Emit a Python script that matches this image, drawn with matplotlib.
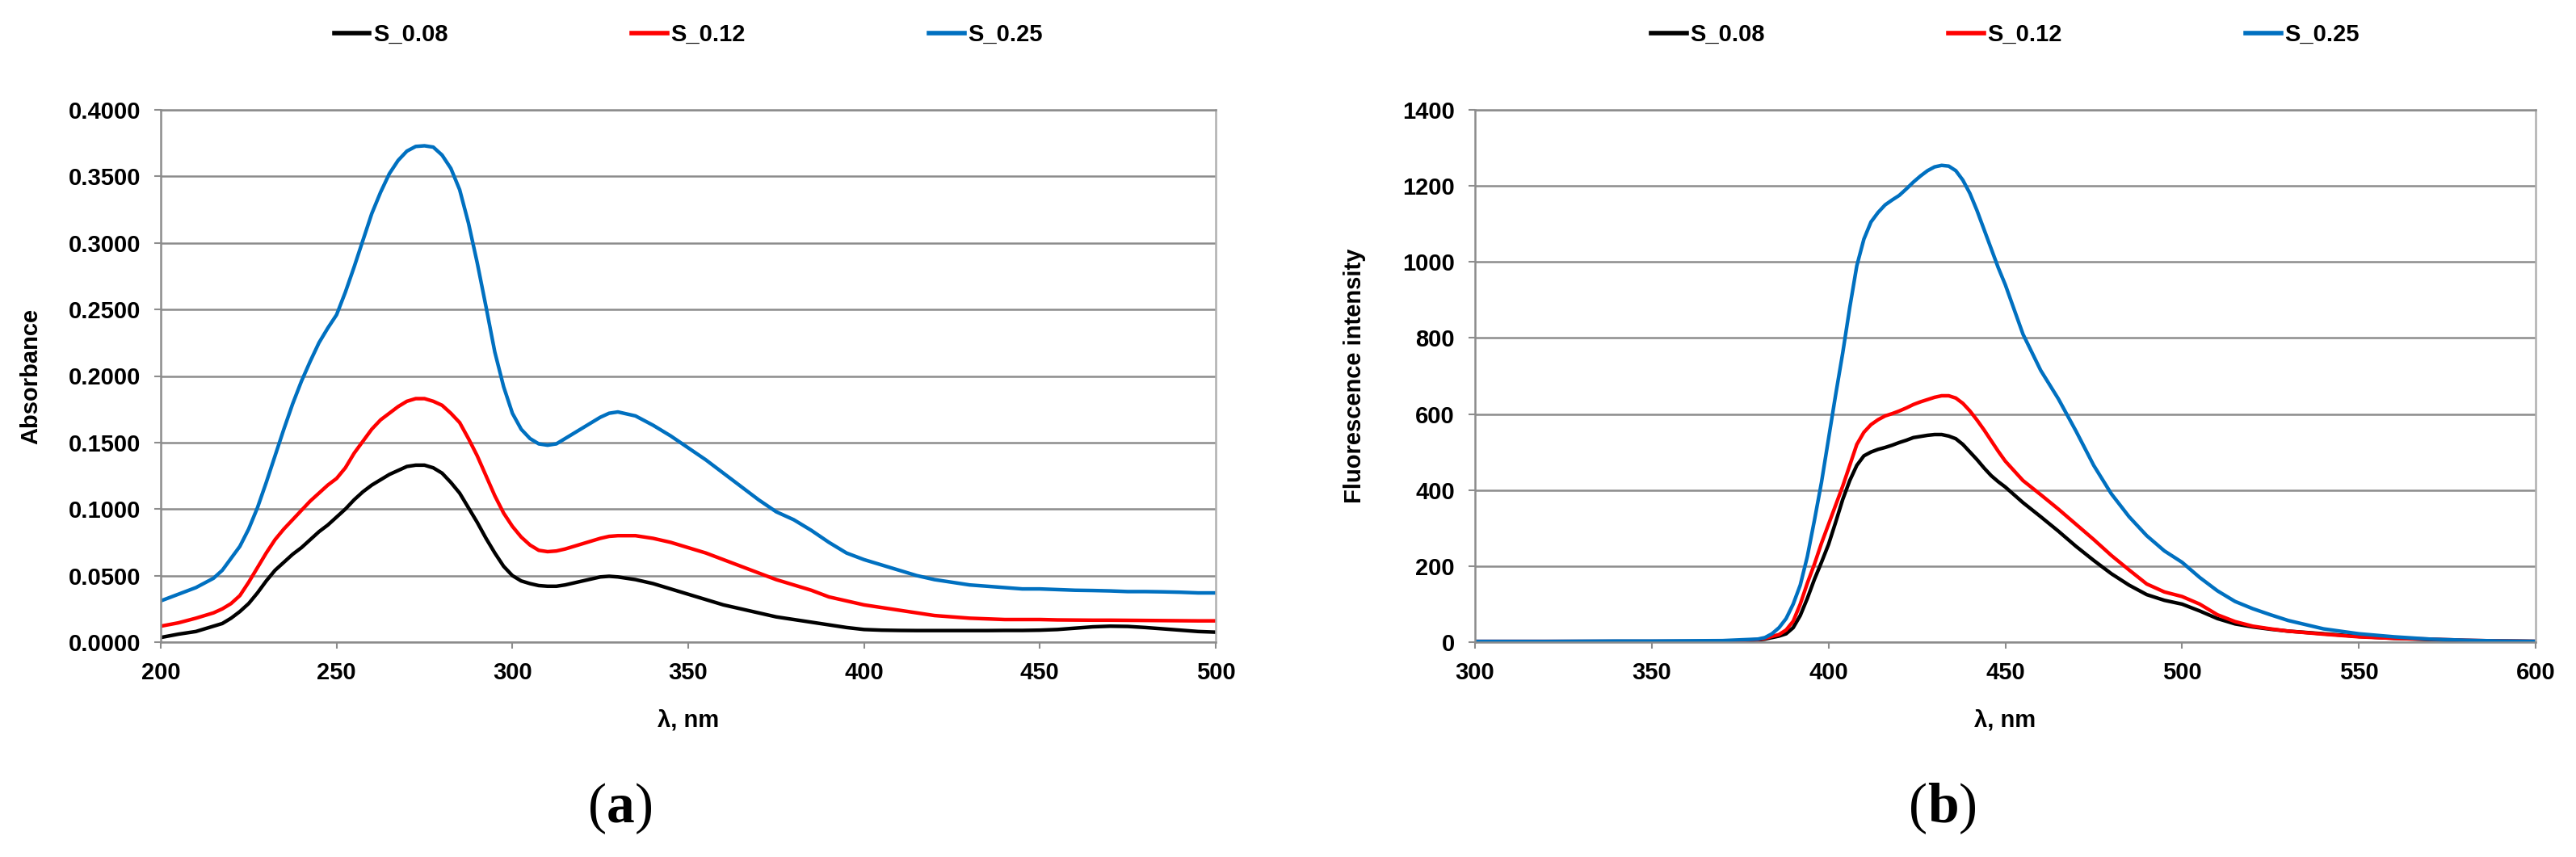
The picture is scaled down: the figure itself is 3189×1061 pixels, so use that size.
import matplotlib
matplotlib.use("Agg")
import matplotlib.pyplot as plt
from matplotlib.ticker import FormatStrFormatter
from matplotlib.offsetbox import TextArea, HPacker, AnchoredOffsetbox

# ---------------- data ----------------
series_names = ["S_0.08", "S_0.12", "S_0.25"]
series_colors = ["#000000", "#ff0000", "#0070c0"]

# (a) absorbance
wl_a = [200, 205, 210, 215, 217.5, 220, 222.5, 225, 227.5, 230, 232.5, 235, 237.5, 240,
        242.5, 245, 247.5, 250, 252.5, 255, 257.5, 260, 262.5, 265, 267.5, 270, 272.5,
        275, 277.5, 280, 282.5, 285, 287.5, 290, 292.5, 295, 297.5, 300, 302.5, 305,
        307.5, 310, 312.5, 315, 317.5, 320, 322.5, 325, 327.5, 330,
        335, 340, 345, 350, 355, 360, 365, 370, 375, 380, 385, 390, 395, 400, 405, 410,
        415, 420, 425, 430, 435, 440, 445, 450, 455, 460, 465, 470, 475, 480, 485, 490,
        495, 500]

abs_s008 = [0.0035, 0.006, 0.008, 0.012, 0.014, 0.018, 0.023, 0.029, 0.037, 0.046, 0.054,
            0.060, 0.066, 0.071, 0.077, 0.083, 0.088, 0.094, 0.100, 0.107, 0.113, 0.118,
            0.122, 0.126, 0.129, 0.132, 0.133, 0.133, 0.131, 0.127, 0.120, 0.112, 0.101,
            0.090, 0.078, 0.067, 0.057, 0.050, 0.046, 0.044, 0.0425, 0.042, 0.042, 0.043,
            0.0445, 0.046, 0.0475, 0.049, 0.0495, 0.049,
            0.047, 0.044, 0.040, 0.036, 0.032, 0.028, 0.025, 0.022, 0.019, 0.017, 0.015,
            0.013, 0.011, 0.0095, 0.009, 0.0088, 0.0087, 0.0087, 0.0087, 0.0087, 0.0087,
            0.0088, 0.0088, 0.0090, 0.0095, 0.0105, 0.0115, 0.0120, 0.0118, 0.0110,
            0.0100, 0.0090, 0.0080, 0.0075]

abs_s012 = [0.012, 0.0145, 0.018, 0.022, 0.025, 0.029, 0.035, 0.045, 0.056, 0.067, 0.077,
            0.085, 0.092, 0.099, 0.106, 0.112, 0.118, 0.123, 0.131, 0.142, 0.151, 0.160,
            0.167, 0.172, 0.177, 0.181, 0.183, 0.183, 0.181, 0.178, 0.172, 0.165, 0.153,
            0.140, 0.125, 0.110, 0.097, 0.087, 0.079, 0.073, 0.069, 0.068, 0.0685, 0.070,
            0.072, 0.074, 0.076, 0.078, 0.0795, 0.080,
            0.080, 0.078, 0.075, 0.071, 0.067, 0.062, 0.057, 0.052, 0.047, 0.043, 0.039,
            0.034, 0.031, 0.028, 0.026, 0.024, 0.022, 0.020, 0.019, 0.018, 0.0175, 0.017,
            0.017, 0.017, 0.0167, 0.0166, 0.0165, 0.0165, 0.0164, 0.0163, 0.0162, 0.0161,
            0.016, 0.016]

abs_s025 = [0.031, 0.036, 0.041, 0.048, 0.054, 0.063, 0.072, 0.085, 0.101, 0.120, 0.140,
            0.160, 0.179, 0.196, 0.211, 0.225, 0.236, 0.246, 0.263, 0.282, 0.302, 0.322,
            0.338, 0.352, 0.362, 0.369, 0.3725, 0.373, 0.372, 0.366, 0.356, 0.340, 0.315,
            0.285, 0.252, 0.218, 0.192, 0.172, 0.160, 0.153, 0.149, 0.148, 0.149, 0.153,
            0.157, 0.161, 0.165, 0.169, 0.172, 0.173,
            0.170, 0.163, 0.155, 0.146, 0.137, 0.127, 0.117, 0.107, 0.098, 0.092, 0.084,
            0.075, 0.067, 0.062, 0.058, 0.054, 0.050, 0.047, 0.045, 0.043, 0.042, 0.041,
            0.040, 0.040, 0.0395, 0.039, 0.0388, 0.0385, 0.038, 0.038, 0.0378, 0.0375,
            0.037, 0.037]

# (b) fluorescence
wl_b = [300, 310, 320, 330, 340, 350, 360, 370, 375,
        380, 382, 384, 386, 388, 390, 392, 394, 396, 398, 400, 402, 404, 406, 408, 410,
        412, 414, 416, 418, 420, 422, 424, 426, 428, 430, 432, 434, 436, 438, 440, 442,
        444, 446, 448, 450,
        455, 460, 465, 470, 475, 480, 485, 490, 495, 500, 505, 510, 515, 520, 525, 530,
        540, 550, 560, 570, 580, 590, 600]

fl_s008 = [1.5, 1.5, 1.5, 1.5, 1.5, 1.5, 1.5, 2, 3,
           6, 8, 12, 16, 22, 38, 70, 115, 165, 210, 257, 315, 375, 425, 465, 490,
           500, 507, 512, 518, 525, 531, 538, 541, 544, 546, 546, 542, 535, 520, 500, 480,
           458, 438, 422, 408,
           367, 330, 292, 252, 215, 180, 150, 125, 110, 100, 82, 62, 48, 40, 34, 29,
           22, 15, 10, 7, 4, 3, 2]

fl_s012 = [2, 2, 2, 2, 2, 2, 2, 2, 4,
           7, 10, 15, 20, 32, 55, 100, 155, 205, 260, 310, 360, 410, 465, 520, 552,
           572, 585, 595, 601, 608, 616, 625, 632, 638, 644, 648, 648, 642, 628, 608, 584,
           558, 530, 502, 476,
           425, 388, 350, 310, 270, 228, 190, 153, 132, 120, 100, 72, 54, 42, 35, 29,
           21, 14, 10, 8, 5, 3, 2]

fl_s025 = [2, 2, 2, 2.5, 3, 3, 3.5, 4, 6,
           8, 12, 22, 38, 62, 100, 150, 225, 320, 420, 535, 650, 760, 880, 990, 1060,
           1105, 1130, 1150, 1163, 1175, 1192, 1210, 1226, 1240, 1250, 1254, 1252, 1240,
           1215, 1180, 1135, 1085, 1035, 985, 940,
           810, 715, 640, 555, 465, 390, 330, 280, 240, 210, 170, 135, 107, 88, 72, 57,
           35, 22, 14, 8, 5, 3, 2]

xticks_a = [200, 250, 300, 350, 400, 450, 500]
yticks_a = [0.0, 0.05, 0.10, 0.15, 0.20, 0.25, 0.30, 0.35, 0.40]
xticks_b = [300, 350, 400, 450, 500, 550, 600]
yticks_b = [0, 200, 400, 600, 800, 1000, 1200, 1400]

for s in (abs_s008, abs_s012, abs_s025):
    assert len(s) == len(wl_a)
for s in (fl_s008, fl_s012, fl_s025):
    assert len(s) == len(wl_b)

# ---------------- figure ----------------
W, H = 3189, 1061
DPI = 100
fig = plt.figure(figsize=(W / DPI, H / DPI), dpi=DPI)
plt.rcParams["font.family"] = ["Liberation Sans", "DejaVu Sans"]

GRID = "#8c8c8c"
FS = 21


def px_axes(x0, x1, ytop, ybot):
    return fig.add_axes([x0 / W, 1 - ybot / H, (x1 - x0) / W, (ybot - ytop) / H])


def style(ax, xticks, yticks, fmt, ylabel):
    ax.set_xticks(xticks)
    ax.set_yticks(yticks)
    ax.set_xlim(xticks[0], xticks[-1])
    ax.set_ylim(yticks[0], yticks[-1])
    ax.yaxis.set_major_formatter(FormatStrFormatter(fmt))
    ax.grid(axis="y", color=GRID, linewidth=1.8)
    ax.set_axisbelow(True)
    for s in ["left", "right", "bottom", "top"]:
        ax.spines[s].set_color(GRID)
        ax.spines[s].set_linewidth(1.8)
    ax.spines["right"].set_color("#b0b0b0")
    ax.tick_params(axis="both", colors=GRID, length=6, width=1.5, direction="out",
                   labelcolor="black", labelsize=FS)
    ax.tick_params(axis="x", pad=11)
    ax.tick_params(axis="y", pad=12)
    for lab in ax.get_xticklabels() + ax.get_yticklabels():
        lab.set_fontweight("bold")
    ax.set_xlabel("λ, nm", fontsize=FS, fontweight="bold", labelpad=22)
    ax.set_ylabel(ylabel, fontsize=FS, fontweight="bold")


AX_A = (199, 1505)
AX_B = (1826, 3139)
ax_a = px_axes(AX_A[0], AX_A[1], 136, 795)
ax_b = px_axes(AX_B[0], AX_B[1], 136, 795)

for name, col, ys in zip(series_names, series_colors, [abs_s008, abs_s012, abs_s025]):
    ax_a.plot(wl_a, ys, color=col, lw=3.2, label=name, solid_joinstyle="round")
for name, col, ys in zip(series_names, series_colors, [fl_s008, fl_s012, fl_s025]):
    ax_b.plot(wl_b, ys, color=col, lw=3.2, label=name, solid_joinstyle="round")

style(ax_a, xticks_a, yticks_a, "%.4f", "Absorbance")
style(ax_b, xticks_b, yticks_b, "%d", "Fluorescence intensity")
ax_a.yaxis.set_label_coords((52 - AX_A[0]) / (AX_A[1] - AX_A[0]), 0.5)
ax_b.yaxis.set_label_coords((1691 - AX_B[0]) / (AX_B[1] - AX_B[0]), 0.5)

for ax in (ax_a, ax_b):
    leg = ax.legend(loc="center", bbox_to_anchor=(0.5, (795 - 43) / 659), ncol=3,
                    frameon=False, handlelength=1.5, handletextpad=0.15,
                    columnspacing=7.8,
                    prop={"size": FS, "weight": "bold"})
    for ln in leg.get_lines():
        ln.set_linewidth(4)

# panel labels: regular parentheses, bold letter, serif
for xc, letter in [(768, "a"), (2405, "b")]:
    parts = [TextArea("(", textprops=dict(fontsize=50, family="Liberation Serif")),
             TextArea(letter, textprops=dict(fontsize=50, family="Liberation Serif",
                                              fontweight="bold")),
             TextArea(")", textprops=dict(fontsize=50, family="Liberation Serif"))]
    box = HPacker(children=parts, align="baseline", pad=0, sep=0)
    anch = AnchoredOffsetbox(loc="center", child=box, pad=0, frameon=False,
                             bbox_to_anchor=(xc / W, 1 - 1001 / H),
                             bbox_transform=fig.transFigure, borderpad=0)
    fig.add_artist(anch)

fig.savefig("out.png", dpi=DPI)
